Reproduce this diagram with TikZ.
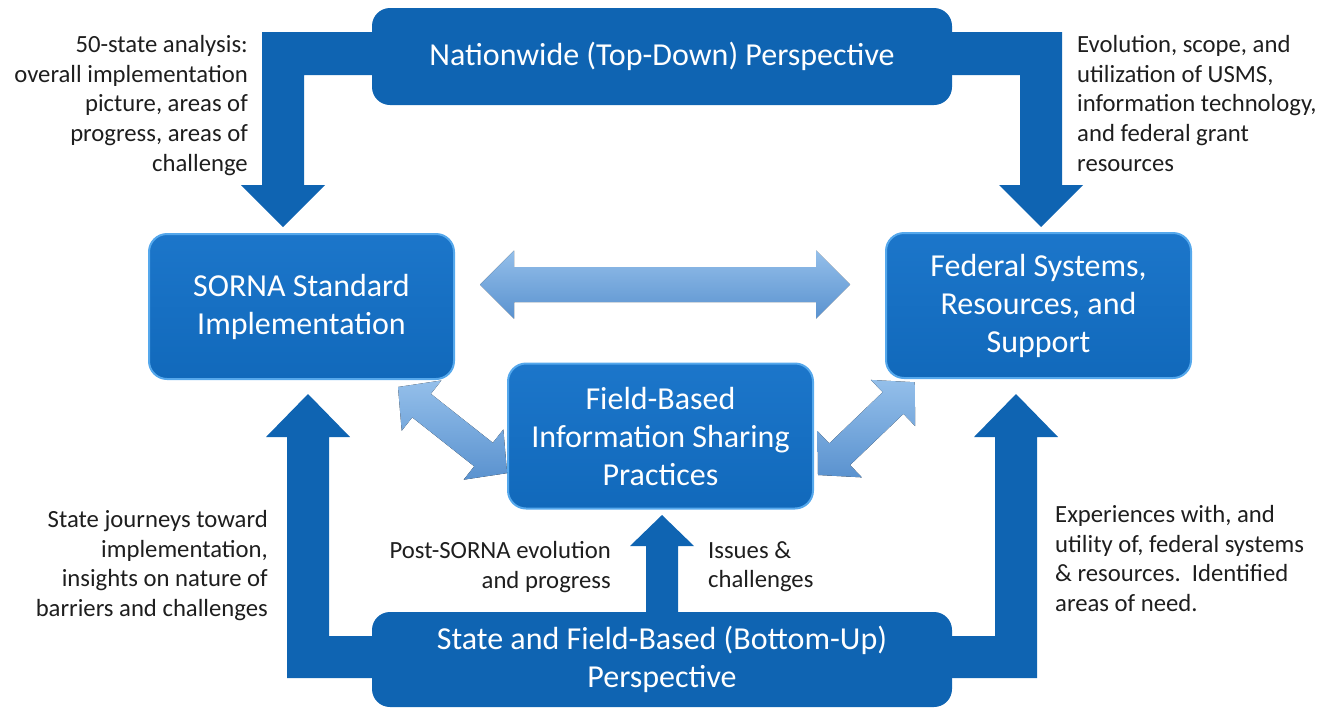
\documentclass[tikz,border=0pt]{standalone}
\usepackage{fontspec}
\setmainfont{Carlito}
\usetikzlibrary{calc}
\definecolor{dblue}{HTML}{0F64B2}
\definecolor{gtop}{HTML}{1C76CA}
\definecolor{gmid}{HTML}{0C62B4}
\definecolor{gbot}{HTML}{1169BB}
\definecolor{glow}{HTML}{55A8EC}
\definecolor{ltop}{HTML}{94BFEA}
\definecolor{lbot}{HTML}{5A92CF}
\definecolor{txt}{HTML}{1E1E1E}
\begin{document}
\begin{tikzpicture}[x=1pt,y=-1pt,
  darkbox/.style={fill=dblue, rounded corners=18pt, text=white, align=center, inner sep=0pt,
    font=\fontsize{32}{38}\selectfont},
  glowbox/.style={rounded corners=18pt, top color=gtop, middle color=gmid, bottom color=gbot,
    draw=glow, line width=2pt, text=white, align=center, inner sep=0pt,
    minimum width=305pt, minimum height=145pt, font=\fontsize{32}{38}\selectfont},
  bigarrow/.style={fill=dblue},
  note/.style={text=txt, inner sep=0pt, font=\fontsize{24.7}{29.8}\selectfont},
  pics/dbl/.style n args={4}{code={
    \fill[top color=ltop, bottom color=lbot]
      (0,0) -- (#4,-#3) -- (#4,-#2) -- (#1-#4,-#2) -- (#1-#4,-#3) -- (#1,0)
      -- (#1-#4,#3) -- (#1-#4,#2) -- (#4,#2) -- (#4,#3) -- cycle;
  }}]
\useasboundingbox (0,0) rectangle (1325,710);

% big dark arrows (drawn first, boxes cover their roots)
\fill[bigarrow] (400,32) -- (262,32) -- (262,185) -- (241,185) -- (283,227)
  -- (325,185) -- (304,185) -- (304,75) -- (400,75) -- cycle;
\fill[bigarrow] (924,32) -- (1062,32) -- (1062,185) -- (1083,185) -- (1041,227)
  -- (999,185) -- (1020,185) -- (1020,75) -- (924,75) -- cycle;
\fill[bigarrow] (400,678) -- (287,678) -- (287,437) -- (266,437) -- (308,394)
  -- (350,437) -- (329,437) -- (329,636) -- (400,636) -- cycle;
\fill[bigarrow] (924,678) -- (1037,678) -- (1037,437) -- (1058,437) -- (1016,394)
  -- (974,437) -- (995,437) -- (995,636) -- (924,636) -- cycle;
\fill[bigarrow] (646,640) -- (646,546) -- (630,546) -- (662,515) -- (694,546)
  -- (678,546) -- (678,640) -- cycle;

% boxes
\node[darkbox, minimum width=580pt, minimum height=97pt] (top) at (662,56.5)
  {Nationwide (Top-Down) Perspective};
\node[darkbox, minimum width=580pt, minimum height=95pt] (bot) at (662,659.5)
  {State and Field-Based (Bottom-Up)\\Perspective};
\node[glowbox] (sorna) at (301.5,306.5) {SORNA Standard\\Implementation};
\node[glowbox] (fed) at (1038.5,305.5) {Federal Systems,\\Resources, and\\Support};
\node[glowbox] (field) at (660.5,436) {Field-Based\\Information Sharing\\Practices};

% light double arrows
\pic at (480,284.5) {dbl={370}{17.5}{34}{34}};
\pic[rotate=-38.3] at (398,387) {dbl={139}{15}{32}{30}};
\pic[rotate=43.8] at (818,475) {dbl={134}{15}{32}{30}};

% notes
\node[note, align=right, anchor=north east] (n1) at (248,35)
  {50-state analysis:\\overall implementation\\picture, areas of\\progress, areas of\\challenge};
\node[note, align=left, anchor=north west] (n2) at (1077,35)
  {Evolution, scope, and\\utilization of USMS,\\information technology,\\and federal grant\\resources};
\node[note, align=right, anchor=north east] (n3) at (268,510)
  {State journeys toward\\implementation,\\insights on nature of\\barriers and challenges};
\node[note, align=right, anchor=north east] (n4) at (611,541)
  {Post-SORNA evolution\\and progress};
\node[note, align=left, anchor=north west] (n5) at (708,541)
  {Issues \&\\challenges};
\node[note, align=left, anchor=north west] (n6) at (1055,505)
  {Experiences with, and\\utility of, federal systems\\\& resources.\ \ Identified\\areas of need.};
\end{tikzpicture}
\end{document}
